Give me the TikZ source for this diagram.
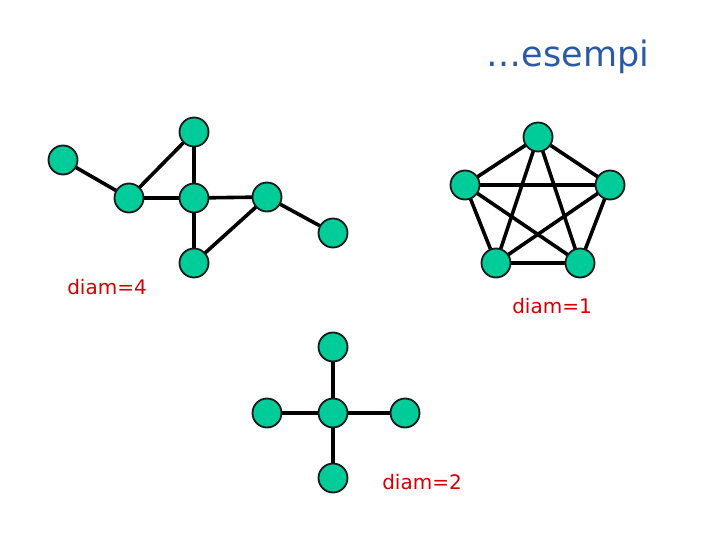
\documentclass[tikz,border=0pt]{standalone}
\usepackage{fontspec}
\setmainfont{DejaVu Sans}
\usetikzlibrary{backgrounds}
\definecolor{nodegreen}{RGB}{0,204,153}
\definecolor{titleblue}{RGB}{43,89,166}
\definecolor{labelred}{RGB}{210,0,0}
\tikzset{
  vtx/.style={circle, draw=black!90, line width=1.8pt, fill=nodegreen, inner sep=0pt, minimum size=29pt},
  edge/.style={line width=3.6pt, black},
  lbl/.style={text=labelred, font=\fontsize{20}{24}\selectfont, inner sep=0pt},
}
\begin{document}
\begin{tikzpicture}[x=1pt,y=-1pt]
\useasboundingbox (0,0) rectangle (720,540);
\node[text=titleblue, font=\fontsize{35}{40}\selectfont, inner sep=0pt] (title) at (568,57) {…esempi};
% graph 1
\node[vtx] (a) at (63,160) {};
\node[vtx] (b) at (194,132) {};
\node[vtx] (c) at (129,198) {};
\node[vtx] (d) at (194,198) {};
\node[vtx] (e) at (267,197) {};
\node[vtx] (f) at (333,233) {};
\node[vtx] (g) at (194,263) {};
\node[lbl] (l4) at (107,287) {diam=4};
% graph 2
\node[vtx] (p1) at (538,137) {};
\node[vtx] (p2) at (465,185) {};
\node[vtx] (p3) at (610,185) {};
\node[vtx] (p4) at (496,263) {};
\node[vtx] (p5) at (580,263) {};
\node[lbl] (l1) at (552,306) {diam=1};
% graph 3
\node[vtx] (s1) at (333,347) {};
\node[vtx] (s2) at (267,413) {};
\node[vtx] (s0) at (333,413) {};
\node[vtx] (s3) at (405,413) {};
\node[vtx] (s4) at (333,478) {};
\node[lbl] (l2) at (422,482) {diam=2};
\begin{scope}[on background layer]
\draw[edge] (a.center) -- (c.center);
\draw[edge] (c.center) -- (b.center);
\draw[edge] (b.center) -- (d.center);
\draw[edge] (c.center) -- (d.center);
\draw[edge] (d.center) -- (e.center);
\draw[edge] (e.center) -- (f.center);
\draw[edge] (d.center) -- (g.center);
\draw[edge] (g.center) -- (e.center);
\foreach \i/\j in {p1/p2,p1/p3,p1/p4,p1/p5,p2/p3,p2/p4,p2/p5,p3/p4,p3/p5,p4/p5}
  \draw[edge] (\i.center) -- (\j.center);
\foreach \j in {s1,s2,s3,s4}
  \draw[edge] (s0.center) -- (\j.center);
\end{scope}
\end{tikzpicture}
\end{document}
